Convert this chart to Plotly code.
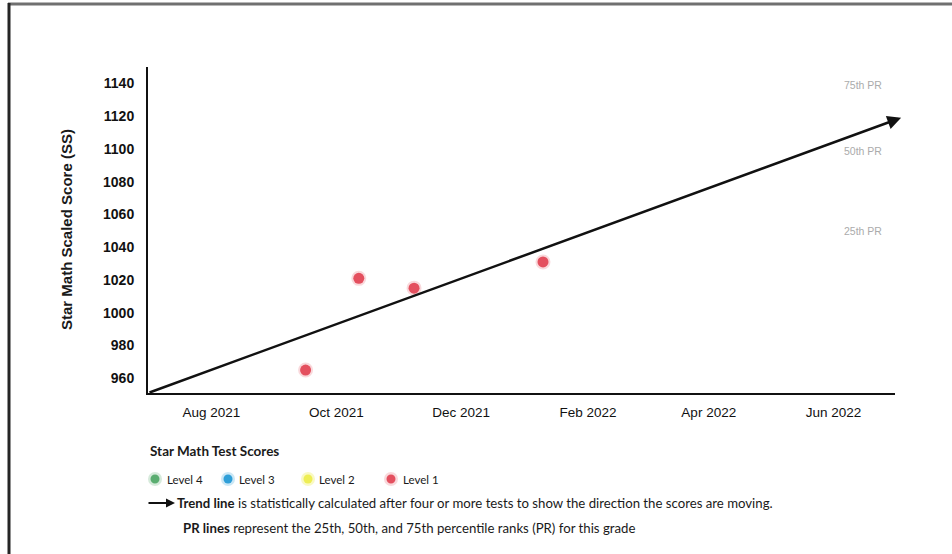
import plotly.graph_objects as go

# Star Math test results
test_dates = ["2021-09-16", "2021-10-12", "2021-11-08", "2022-01-10"]
test_scores = [965, 1021, 1015, 1031]
test_levels = ["Level 1", "Level 1", "Level 1", "Level 1"]

# Trend line end points
trend_dates = ["2021-07-01", "2022-07-04"]
trend_scores = [951, 1119]

# Percentile-rank labels on the right edge
pr_labels = ["75th PR", "50th PR", "25th PR"]
pr_scores = [1139, 1099, 1050]

# Axis ticks
y_ticks = [960, 980, 1000, 1020, 1040, 1060, 1080, 1100, 1120, 1140]
x_ticks = ["2021-08-01", "2021-10-01", "2021-12-01", "2022-02-01", "2022-04-01", "2022-06-01"]
x_tick_text = ["Aug 2021", "Oct 2021", "Dec 2021", "Feb 2022", "Apr 2022", "Jun 2022"]

# Legend entries
legend_levels = ["Level 4", "Level 3", "Level 2", "Level 1"]
level_colors = {"Level 4": "#5aad70", "Level 3": "#2f9fd8", "Level 2": "#eeee55", "Level 1": "#e4505f"}
level_halos = {"Level 4": "rgba(90,173,112,0.25)", "Level 3": "rgba(47,159,216,0.25)",
               "Level 2": "rgba(238,238,85,0.35)", "Level 1": "rgba(228,80,95,0.22)"}

W, H = 952, 554
L, R, T, B = 148, 57, 67, 161
PW, PH = W - L - R, H - T - B


def px(x):
    return (x - L) / PW


def py(y):
    return (H - B - y) / PH


fig = go.Figure()

fig.add_trace(go.Scatter(
    x=test_dates, y=test_scores, mode="markers",
    marker=dict(size=11, color=[level_colors[l] for l in test_levels],
                line=dict(color=[level_halos[l] for l in test_levels], width=4)),
    showlegend=False, hoverinfo="x+y",
))

annotations = []
shapes = []

# Trend line with arrow head
annotations.append(dict(
    x=trend_dates[1], y=trend_scores[1], xref="x", yref="y",
    ax=trend_dates[0], ay=trend_scores[0], axref="x", ayref="y",
    text="", showarrow=True, arrowhead=2, arrowsize=1.1, arrowwidth=2.5,
    arrowcolor="#111111", standoff=0, startstandoff=0,
))

# PR labels
for lab, val in zip(pr_labels, pr_scores):
    annotations.append(dict(
        x=px(863), y=val, xref="paper", yref="y", text=lab, showarrow=False,
        font=dict(family="Liberation Sans, Arial", size=10.5, color="#ababab"),
        xanchor="center", yanchor="middle",
    ))

# Y axis title
annotations.append(dict(
    x=px(66), y=0.5, xref="paper", yref="paper", text="<b>Star Math Scaled Score (SS)</b>",
    textangle=-90, showarrow=False, xanchor="center", yanchor="middle",
    font=dict(family="Liberation Sans, Arial", size=15, color="#1a1a1a"),
))

# Legend block
title_font = dict(family="Lato, Open Sans, sans-serif", size=13.5, color="#1a1a1a")
leg_font = dict(family="Lato, Open Sans, sans-serif", size=13.2, color="#1a1a1a")
lvl_font = dict(family="Lato, Open Sans, sans-serif", size=11.5, color="#1a1a1a")
annotations.append(dict(
    x=0, y=py(451), xref="paper", yref="paper", text="<b>Star Math Test Scores</b>",
    showarrow=False, xanchor="left", yanchor="middle", align="left", font=title_font,
))
dot_x = [155, 228, 308, 391]
text_x = [165, 237, 317, 401]
for lvl, dx, tx in zip(legend_levels, dot_x, text_x):
    shapes.append(dict(
        type="circle", xref="paper", yref="paper", xsizemode="pixel", ysizemode="pixel",
        xanchor=px(dx), yanchor=py(479), x0=-7, x1=7, y0=-7, y1=7,
        fillcolor=level_halos[lvl], line=dict(width=0),
    ))
    shapes.append(dict(
        type="circle", xref="paper", yref="paper", xsizemode="pixel", ysizemode="pixel",
        xanchor=px(dx), yanchor=py(479), x0=-4.5, x1=4.5, y0=-4.5, y1=4.5,
        fillcolor=level_colors[lvl], line=dict(width=0),
    ))
    annotations.append(dict(
        x=px(tx), y=py(479), xref="paper", yref="paper", text=lvl, showarrow=False,
        xanchor="left", yanchor="middle", align="left", font=lvl_font,
    ))

# Legend arrow and notes
annotations.append(dict(
    x=px(175), y=py(503), xref="paper", yref="paper", ax=-28, ay=0, text="",
    showarrow=True, arrowhead=2, arrowsize=1, arrowwidth=1.8, arrowcolor="#111111",
    standoff=0,
))
annotations.append(dict(
    x=px(175), y=py(503), xref="paper", yref="paper",
    text="<b>Trend line</b> is statistically calculated after four or more tests to show the direction the scores are moving.",
    showarrow=False, xanchor="left", yanchor="middle", align="left", font=leg_font,
))
annotations.append(dict(
    x=px(181), y=py(528), xref="paper", yref="paper",
    text="<b>PR lines</b> represent the 25th, 50th, and 75th percentile ranks (PR) for this grade",
    showarrow=False, xanchor="left", yanchor="middle", align="left", font=leg_font,
))

# Page frame
shapes.append(dict(type="line", xref="paper", yref="paper",
                   x0=px(8), x1=px(952), y0=py(4), y1=py(4),
                   line=dict(color="#707070", width=3)))
shapes.append(dict(type="line", xref="paper", yref="paper",
                   x0=px(9), x1=px(9), y0=py(3), y1=py(554),
                   line=dict(color="#252525", width=3)))

fig.update_layout(
    width=W, height=H,
    margin=dict(l=L, r=R, t=T, b=B),
    paper_bgcolor="white", plot_bgcolor="white",
    xaxis=dict(
        type="date", range=["2021-07-01", "2022-07-01"],
        tickvals=x_ticks, ticktext=x_tick_text, ticks="",
        showgrid=False, zeroline=False, showline=True, linecolor="#111111", linewidth=2,
        tickfont=dict(family="Liberation Sans, Arial", size=13.5, color="#111111"),
        ticklabelstandoff=6,
    ),
    yaxis=dict(
        range=[951, 1150], tickvals=y_ticks, ticks="",
        showgrid=False, zeroline=False, showline=True, linecolor="#111111", linewidth=2,
        tickfont=dict(family="Liberation Sans, Arial", size=14, color="#111111", weight="bold"),
        ticklabelstandoff=9,
    ),
    annotations=annotations,
    shapes=shapes,
    showlegend=False,
)

fig.write_html("out.html")
